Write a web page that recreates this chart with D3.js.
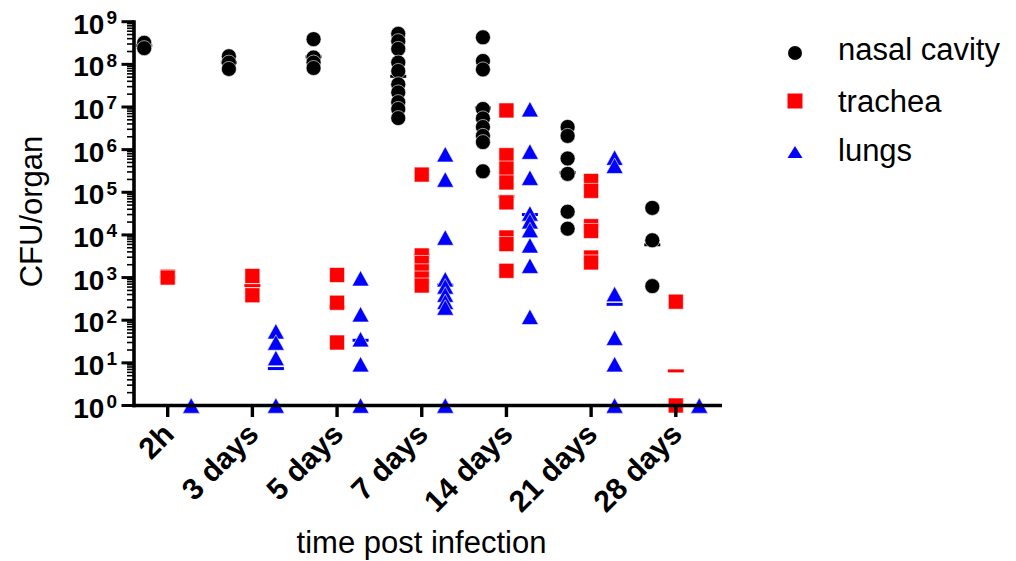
<!DOCTYPE html>
<html><head><meta charset="utf-8">
<script src="https://cdn.jsdelivr.net/npm/d3@7"></script>
<style>body{margin:0;background:#fff} svg{display:block}</style>
</head><body><svg id="c" width="1016" height="561"></svg>
<script>
// ---- data ----
const categories = ["2h", "3 days", "5 days", "7 days", "14 days", "21 days", "28 days"];
const seriesNames = ["nasal cavity", "trachea", "lungs"];
const seriesColors = ["#000000", "#ff0000", "#0000ff"];
const nasal = [
  [3.2e8, 2.4e8],
  [1.55e8, 1.1e8, 7.8e7],
  [3.9e8, 1.45e8, 1.1e8, 8.2e7],
  [5.2e8, 3.5e8, 2.3e8, 1.1e8, 7e7, 3.4e7, 2.2e7, 1.3e7, 9e6, 5.5e6],
  [4.3e8, 1.2e8, 7.6e7, 9e6, 5.4e6, 3.4e6, 2.1e6, 1.5e6, 3.1e5],
  [3.4e6, 2.1e6, 6.2e5, 2.7e5, 3.5e4, 1.4e4],
  [4.3e4, 7.5e3, 6.3e2]
];
const trachea = [
  [1050, 1000],
  [1090, 385],
  [1150, 257, 30],
  [2.6e5, 3300, 2200, 1400, 950, 650],
  [8.3e6, 7.4e5, 3.6e5, 1.7e5, 5.8e4, 8.7e3, 6.1e3, 1.44e3],
  [1.84e5, 1.08e5, 1.6e4, 1.24e4, 2950, 2260],
  [272, 1, 1]
];
const lungs = [
  [1, 1, 1],
  [55, 30, 13, 1, 1],
  [962, 138, 36, 9.3, 1],
  [7.8e5, 2e5, 8.7e3, 916, 620, 400, 270, 199, 1, 1],
  [8.9e6, 9e5, 2.2e5, 3.2e4, 2.1e4, 1.3e4, 5.7e3, 1.9e3, 120],
  [6.5e5, 4.2e5, 410, 39, 9.3, 1, 1],
  [1, 1, 1]
];
const yTickExponents = [0, 1, 2, 3, 4, 5, 6, 7, 8, 9];
const xTitle = "time post infection";
const yTitle = "CFU/organ";

// ---- drawing ----
const series = [nasal, trachea, lungs];
const FONT = "'Liberation Sans', Arial, Helvetica, sans-serif";
const svg = d3.select("#c");

const y = d3.scaleLog().domain([1, 1e9]).range([405.5, 21.7]);
const x = d3.scalePoint().domain(categories).range([167.7, 675.8]);
const off = d3.scalePoint().domain(seriesNames).range([-23.5, 23.5]);

const axisX0 = 134, axisX1 = 722, axisY = y(1);

function symPath(i, s) {
  if (i === 0) { const r = s / 2; return `M${-r},0A${r},${r} 0 1,0 ${r},0A${r},${r} 0 1,0 ${-r},0Z`; }
  if (i === 1) { const h = s / 2; return `M${-h},${-h}H${h}V${h}H${-h}Z`; }
  const w = s * 0.55, hh = s / 2;
  return `M0,${-hh}L${w},${hh}L${-w},${hh}Z`;
}

// geometric mean lines (behind symbols)
const lineG = svg.append("g");
series.forEach((ser, si) => {
  ser.forEach((vals, ci) => {
    const gm = Math.pow(10, d3.mean(vals, v => Math.log10(v)));
    lineG.append("rect")
      .attr("x", x(categories[ci]) + off(seriesNames[si]) - 8)
      .attr("y", y(gm) - 1.5)
      .attr("width", 16).attr("height", 3)
      .attr("fill", seriesColors[si]);
  });
});

// symbols
const symG = svg.append("g");
series.forEach((ser, si) => {
  ser.forEach((vals, ci) => {
    vals.forEach(v => {
      symG.append("path")
        .attr("d", symPath(si, si === 2 ? 15.5 : 15))
        .attr("transform", `translate(${x(categories[ci]) + off(seriesNames[si])},${y(v)})`)
        .attr("fill", seriesColors[si])
        .attr("stroke", "#fff").attr("stroke-width", 0.6);
    });
  });
});

// axes
const axG = svg.append("g").attr("stroke", "#000");
yTickExponents.slice(0, -1).forEach(e => {
  for (let k = 2; k <= 9; k++) {
    const yy = y(k * Math.pow(10, e));
    axG.append("line").attr("x1", 127).attr("x2", axisX0).attr("y1", yy).attr("y2", yy).attr("stroke-width", 1.6);
  }
});
yTickExponents.forEach(e => {
  const yy = y(Math.pow(10, e));
  axG.append("line").attr("x1", 121.5).attr("x2", axisX0).attr("y1", yy).attr("y2", yy).attr("stroke-width", 3);
});
axG.append("line").attr("x1", axisX0).attr("x2", axisX0).attr("y1", y(1e9) - 1.5).attr("y2", axisY + 1.8).attr("stroke-width", 3.6);
axG.append("line").attr("x1", axisX0 - 1.8).attr("x2", axisX1).attr("y1", axisY).attr("y2", axisY).attr("stroke-width", 3.6);
categories.forEach(c => {
  axG.append("line").attr("x1", x(c)).attr("x2", x(c)).attr("y1", axisY).attr("y2", 417).attr("stroke-width", 3.4);
});

// y tick labels
yTickExponents.forEach(e => {
  const t = svg.append("text")
    .attr("x", 117).attr("y", y(Math.pow(10, e)) + 12)
    .attr("text-anchor", "end")
    .attr("font-family", FONT).attr("font-weight", "bold").attr("font-size", 28)
    .attr("fill", "#000");
  t.append("tspan").text("10");
  t.append("tspan").attr("dx", 2).attr("dy", -9.5).attr("font-size", 19).text(String(e));
});

// x tick labels
categories.forEach(c => {
  svg.append("text")
    .attr("transform", `translate(${x(c) + 8},436) rotate(-45)`)
    .attr("text-anchor", "end")
    .attr("font-family", FONT).attr("font-weight", "bold").attr("font-size", 30)
    .attr("fill", "#000")
    .text(c);
});

// axis titles
svg.append("text").attr("x", 421.5).attr("y", 553)
  .attr("text-anchor", "middle").attr("font-family", FONT).attr("font-size", 31).attr("fill", "#000")
  .text(xTitle);
svg.append("text").attr("transform", "translate(42,211.5) rotate(-90)")
  .attr("text-anchor", "middle").attr("font-family", FONT).attr("font-size", 31).attr("fill", "#000")
  .text(yTitle);

// legend
const legY = [53, 101, 152];
const legBase = [60, 111.5, 160.5];
seriesNames.forEach((n, i) => {
  svg.append("path")
    .attr("d", i === 2 ? "M0,-6L7.5,6L-7.5,6Z" : symPath(i, i === 0 ? 14 : 15))
    .attr("transform", `translate(795,${legY[i]})`)
    .attr("fill", seriesColors[i]);
  svg.append("text").attr("x", 838).attr("y", legBase[i])
    .attr("font-family", FONT).attr("font-size", 31).attr("fill", "#000")
    .text(n);
});
</script>
</body></html>
